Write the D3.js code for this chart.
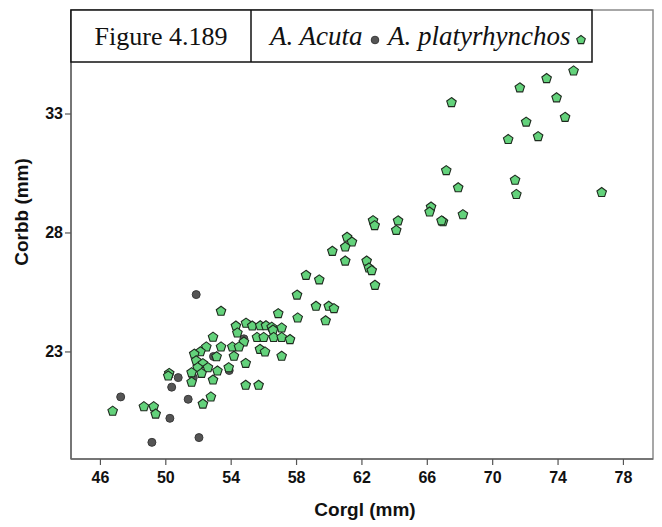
<!DOCTYPE html>
<html><head><meta charset="utf-8">
<script src="https://cdn.jsdelivr.net/npm/d3@7"></script>
<style>body{margin:0;background:#fff}</style>
</head><body>
<script>
const titleText = "Figure 4.189";
const seriesNames = ["A. Acuta", "A. platyrhynchos"];
const xTicks = [46, 50, 54, 58, 62, 66, 70, 74, 78];
const yTicks = [23, 28, 33];
const xLabel = "Corgl (mm)";
const yLabel = "Corbb (mm)";

const acutaX = [51.89, 54.81, 52.95, 53.91, 51.71, 50.79, 50.39, 51.40, 47.27, 50.28, 52.06, 49.18];
const acutaY = [25.39, 23.53, 22.79, 22.20, 21.90, 21.90, 21.50, 20.99, 21.09, 20.19, 19.38, 19.18];

const platyX = [74.98, 73.33, 71.69, 67.51, 73.94, 74.46, 72.08, 70.98, 72.81, 67.19,
  67.92, 71.40, 71.48, 76.70, 66.26, 66.17, 68.21, 66.99, 66.90, 64.24,
  64.13, 62.71, 62.81, 61.12, 61.42, 61.01, 60.22, 61.01, 62.32, 62.46,
  62.63, 62.83, 58.61, 59.42, 58.06, 59.22, 60.00, 60.32, 58.10, 59.81,
  56.91, 53.41, 54.32, 54.94, 55.32, 55.81, 56.16, 56.51, 56.59, 57.12,
  54.41, 54.81, 55.61, 56.02, 56.63, 57.12, 57.63, 52.92, 52.51, 53.41,
  54.10, 54.51, 55.79, 56.10, 57.12, 52.15, 51.77, 53.14, 54.20, 51.89,
  52.30, 51.98, 52.61, 53.19, 53.88, 54.92, 52.22, 51.61, 51.61, 52.92,
  50.24, 50.18, 54.92, 55.71, 52.79, 52.30, 46.78, 48.69, 49.29, 49.41];
const platyY = [34.79, 34.47, 34.08, 33.46, 33.66, 32.84, 32.64, 31.91, 32.03, 30.60,
  29.88, 30.20, 29.60, 29.68, 29.07, 28.86, 28.75, 28.45, 28.49, 28.49,
  28.09, 28.50, 28.29, 27.80, 27.60, 27.39, 27.21, 26.80, 26.80, 26.51,
  26.40, 25.78, 26.20, 26.01, 25.37, 24.90, 24.90, 24.80, 24.41, 24.29,
  24.59, 24.69, 24.07, 24.19, 24.07, 24.08, 24.08, 24.02, 23.90, 23.99,
  23.78, 23.40, 23.59, 23.59, 23.59, 23.59, 23.50, 23.60, 23.19, 23.19,
  23.19, 23.19, 23.09, 22.98, 22.80, 22.99, 22.89, 22.78, 22.80, 22.61,
  22.49, 22.32, 22.32, 22.18, 22.32, 22.50, 22.08, 22.11, 21.71, 21.80,
  22.08, 21.97, 21.58, 21.58, 21.09, 20.79, 20.49, 20.68, 20.68, 20.37];

const W = 662, H = 527;
const L = 71, R = 653, T = 10, B = 459;
const svg = d3.select("body").append("svg").attr("width", W).attr("height", H);

const x = d3.scaleLinear().domain([44.23, 79.84]).range([L, R]);
const y = d3.scaleLinear().domain([18.48, 37.35]).range([B, T]);

svg.append("rect").attr("x", L).attr("y", T).attr("width", R - L).attr("height", B - T)
  .attr("fill", "#fff").attr("stroke", "#8a8a8a").attr("stroke-width", 1.5);

const sans = "'Liberation Sans', Arial, sans-serif";
const serif = "'Liberation Serif', 'Times New Roman', serif";

const xAxis = svg.append("g").attr("transform", `translate(0,${B})`)
  .call(d3.axisBottom(x).tickValues(xTicks).tickSize(6).tickPadding(7).tickSizeOuter(0));
const yAxis = svg.append("g").attr("transform", `translate(${L},0)`)
  .call(d3.axisLeft(y).tickValues(yTicks).tickSize(6).tickPadding(2).tickSizeOuter(0));
[xAxis, yAxis].forEach(g => {
  g.select(".domain").attr("stroke", "#666").attr("stroke-width", 1.5);
  g.selectAll(".tick line").attr("stroke", "#555").attr("stroke-width", 1.2);
  g.selectAll(".tick text").attr("font-family", sans).attr("font-weight", "bold")
    .attr("font-size", 16).attr("fill", "#111");
});
xAxis.select(".domain").attr("d", `M${L},0H${R}`);
yAxis.select(".domain").attr("d", `M0,${T}V${B}`);

svg.append("text").attr("x", 365).attr("y", 516).attr("text-anchor", "middle")
  .attr("font-family", sans).attr("font-weight", "bold").attr("font-size", 19)
  .attr("fill", "#111").text(xLabel);
svg.append("text").attr("transform", "translate(28,212) rotate(-90)").attr("text-anchor", "middle")
  .attr("font-family", sans).attr("font-weight", "bold").attr("font-size", 19)
  .attr("fill", "#111").text(yLabel);

function pentagon(r) {
  const pts = d3.range(5).map(i => {
    const a = -Math.PI / 2 + i * 2 * Math.PI / 5;
    return [r * Math.cos(a), r * Math.sin(a)];
  });
  return "M" + pts.map(p => p[0].toFixed(2) + "," + p[1].toFixed(2)).join("L") + "Z";
}
const pent = pentagon(5);
const green = "#63d27b";

const g = svg.append("g");
g.selectAll("circle.acuta").data(d3.range(acutaX.length)).join("circle")
  .attr("class", "acuta")
  .attr("cx", i => x(acutaX[i])).attr("cy", i => y(acutaY[i])).attr("r", 4)
  .attr("fill", "#555").attr("stroke", "#3a3a3a").attr("stroke-width", 1);
g.selectAll("path.platy").data(d3.range(platyX.length)).join("path")
  .attr("class", "platy")
  .attr("transform", i => `translate(${x(platyX[i])},${y(platyY[i])})`)
  .attr("d", pent)
  .attr("fill", green).attr("stroke", "#1e2a1e").attr("stroke-width", 1.1);

const tb = svg.append("g");
tb.append("rect").attr("x", L).attr("y", T).attr("width", 592 - L).attr("height", 62 - T)
  .attr("fill", "#fff").attr("stroke", "#111").attr("stroke-width", 1.5);
tb.append("line").attr("x1", 251).attr("x2", 251).attr("y1", T).attr("y2", 62)
  .attr("stroke", "#111").attr("stroke-width", 1.5);
tb.append("text").attr("x", 161).attr("y", 45).attr("text-anchor", "middle")
  .attr("font-family", serif).attr("font-size", 26).attr("fill", "#111").text(titleText);
tb.append("text").attr("x", 270).attr("y", 45)
  .attr("font-family", serif).attr("font-style", "italic").attr("font-size", 27)
  .attr("fill", "#111").text(seriesNames[0]);
tb.append("circle").attr("cx", 375).attr("cy", 40).attr("r", 3.8)
  .attr("fill", "#555").attr("stroke", "#3a3a3a").attr("stroke-width", 1);
tb.append("text").attr("x", 388).attr("y", 45)
  .attr("font-family", serif).attr("font-style", "italic").attr("font-size", 27)
  .attr("fill", "#111").text(seriesNames[1]);
tb.append("path").attr("transform", "translate(581,40)").attr("d", pentagon(4.5))
  .attr("fill", green).attr("stroke", "#1e2a1e").attr("stroke-width", 1.1);
</script>
</body></html>
